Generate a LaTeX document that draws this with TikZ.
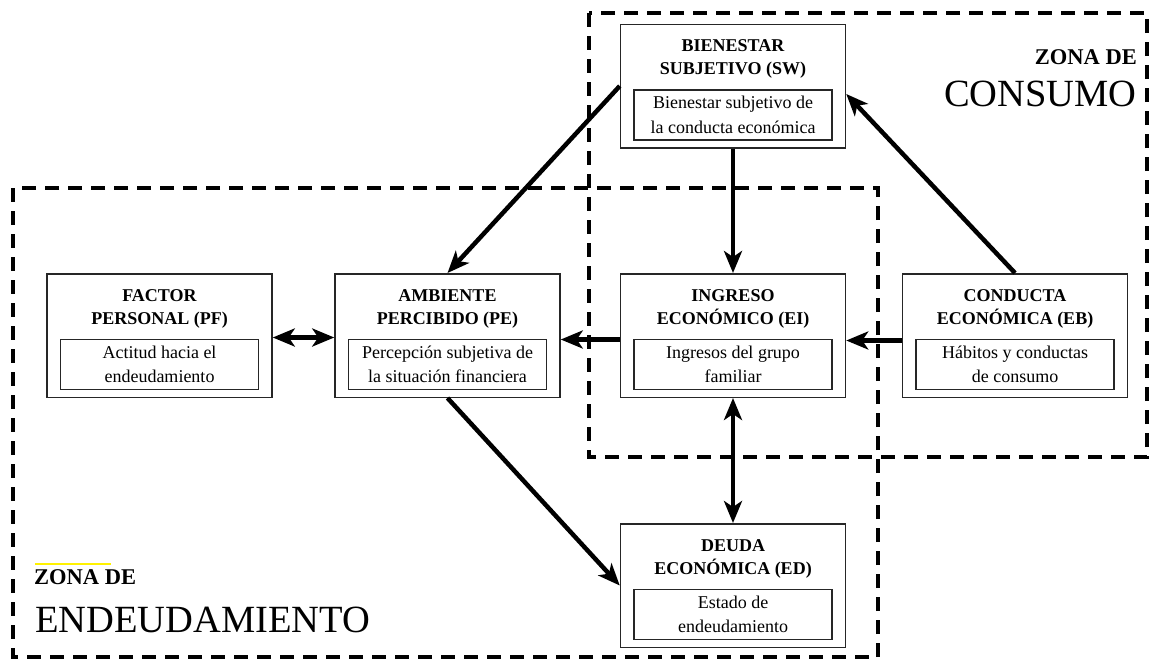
\documentclass[tikz,border=0pt]{standalone}
\usepackage{fontspec}
\setmainfont{Liberation Serif}
\usetikzlibrary{positioning, calc}
\usetikzlibrary{arrows.meta}

\tikzset{
  outerbox/.style={draw=black!85, line width=1.5pt, minimum width=225pt, minimum height=123.5pt, inner sep=0pt},
  innerbox/.style={draw=black!85, line width=1.3pt, minimum width=198pt, minimum height=50pt, inner sep=2pt,
                   align=center, font=\fontsize{18}{24.5}\selectfont},
  boxtitle/.style={align=center, inner sep=0pt, font=\bfseries\fontsize{18}{23}\selectfont},
  zone/.style={line width=4.5pt, dash pattern=on 14pt off 9pt},
  tip/.tip={Stealth[length=22pt, width=18pt, inset=6pt]},
  link/.style={line width=4.5pt, -tip},
  dlink/.style={line width=4.5pt, tip-tip},
}

\begin{document}
\begin{tikzpicture}[x=1pt, y=-1pt]
\useasboundingbox (0,0) rectangle (1151,659);

% zonas
\draw[zone] (589,13) rectangle (1147,457);
\draw[zone] (13,188) rectangle (878,657);

\draw (1137,64) node[anchor=base east, inner sep=0pt, font=\bfseries\fontsize{22.5}{24}\selectfont](zc1){ZONA DE}
      (1137,106) node[anchor=base east, inner sep=0pt, font=\fontsize{38.5}{40}\selectfont](zc2){CONSUMO};
\draw (34,584) node[anchor=base west, inner sep=0pt, font=\bfseries\fontsize{22.5}{24}\selectfont](ze1){ZONA DE}
      (35,632) node[anchor=base west, inner sep=0pt, font=\fontsize{38.5}{40}\selectfont](ze2){ENDEUDAMIENTO};
\draw[yellow, line width=1.5pt] (35,564) -- (111,564);

% cajas
\draw (733,86) node[outerbox](SW){}
      (159.5,335.5) node[outerbox](PF){}   (447.5,335.5) node[outerbox](PE){}
      (733,335.5) node[outerbox](EI){}   (1015,335.5) node[outerbox](EB){}
      (733,585.5) node[outerbox](ED){};

\node[boxtitle, below=16pt of SW.north](SWt){BIENESTAR\\SUBJETIVO (SW)};
\node[innerbox, above=8pt of SW.south](SWi){Bienestar subjetivo de\\la conducta económica};
\node[boxtitle, below=16pt of PF.north](PFt){FACTOR\\PERSONAL (PF)};
\node[innerbox, above=8pt of PF.south](PFi){Actitud hacia el\\endeudamiento};
\node[boxtitle, below=16pt of PE.north](PEt){AMBIENTE\\PERCIBIDO (PE)};
\node[innerbox, above=8pt of PE.south](PEi){Percepción subjetiva de\\la situación financiera};
\node[boxtitle, below=16pt of EI.north](EIt){INGRESO\\ECONÓMICO (EI)};
\node[innerbox, above=8pt of EI.south](EIi){Ingresos del grupo\\familiar};
\node[boxtitle, below=16pt of EB.north](EBt){CONDUCTA\\ECONÓMICA (EB)};
\node[innerbox, above=8pt of EB.south](EBi){Hábitos y conductas\\de consumo};
\node[boxtitle, below=16pt of ED.north](EDt){DEUDA\\ECONÓMICA (ED)};
\node[innerbox, above=8pt of ED.south](EDi){Estado de\\endeudamiento};

% flechas
\path
    (SW.west) edge[link] (PE.north)
    (EB.north) edge[link] ([yshift=-8pt]SW.east)
    (SW.south) edge[link] (EI.north)
    ([yshift=-5pt]EB.west) edge[link] ([yshift=-5pt]EI.east)
    ([yshift=-4pt]EI.west) edge[link] ([yshift=-4pt]PE.east)
    (PE.south) edge[link] (ED.west)
    ([yshift=-2pt]PF.east) edge[dlink] ([yshift=-2pt]PE.west)
    (EI.south) edge[dlink] (ED.north);
\end{tikzpicture}
\end{document}
